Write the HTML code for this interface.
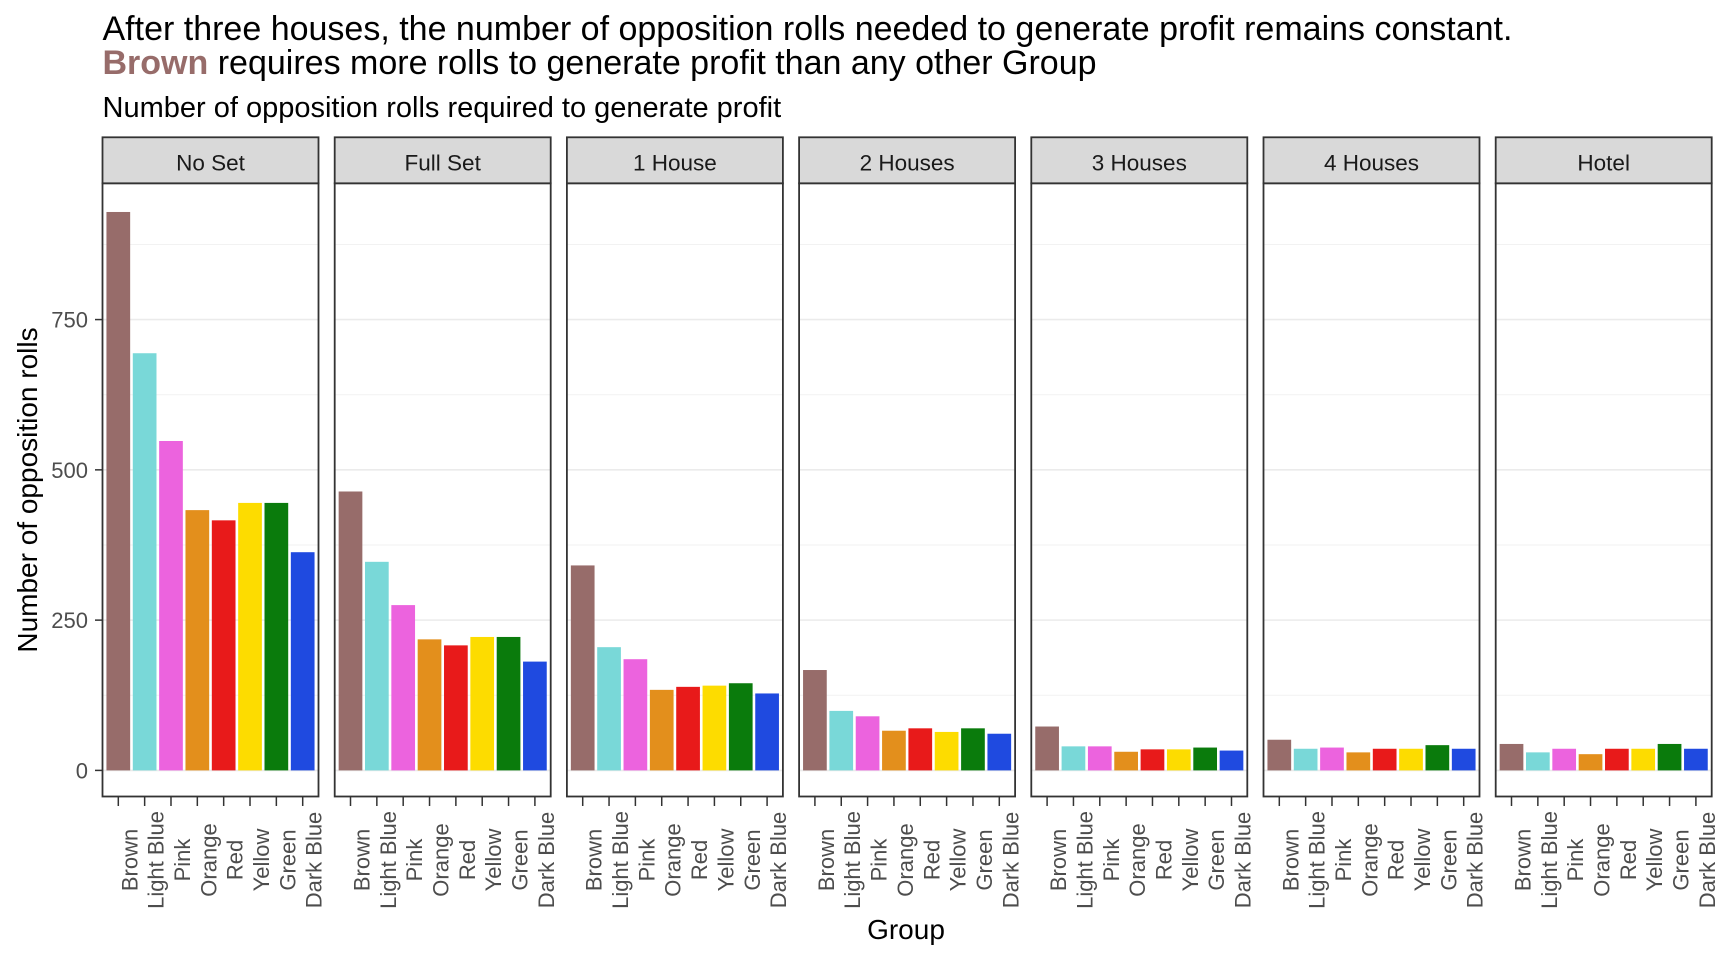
<!DOCTYPE html>
<html><head><meta charset="utf-8"><style>
html,body{margin:0;padding:0;background:#fff}
svg{display:block;font-family:"Liberation Sans",Arial,sans-serif}
</style></head><body>
<svg id="chart" width="1728" height="960" viewBox="0 0 1728 960">
<text x="102.5" y="40" font-size="34" fill="#000">After three houses, the number of opposition rolls needed to generate profit remains constant.</text>
<text x="102.5" y="74" font-size="34" fill="#000"><tspan font-weight="bold" fill="#976c6a">Brown</tspan> requires more rolls to generate profit than any other Group</text>
<text x="102.5" y="117" font-size="29" fill="#000">Number of opposition rolls required to generate profit</text>
<text transform="translate(37,490) rotate(-90)" text-anchor="middle" font-size="28" fill="#000">Number of opposition rolls</text>
<text x="906" y="939" text-anchor="middle" font-size="28" fill="#000">Group</text>
<g id="panels"></g>
</svg>
<script>
const facets = ["No Set","Full Set","1 House","2 Houses","3 Houses","4 Houses","Hotel"];
const groups = ["Brown","Light Blue","Pink","Orange","Red","Yellow","Green","Dark Blue"];
const colors = ["#976c6a","#79d8d8","#ec63de","#e38f1c","#e81a1a","#fddc00","#0a7b0c","#1f4ae0"];
const valNoSet = [929,694,548,433,416,445,445,363];
const valFullSet = [464,347,275,218,208,222,222,181];
const val1House = [341,205,185,134,139,141,145,128];
const val2Houses = [167,99,90,66,70,64,70,61];
const val3Houses = [73,40,40,31,35,35,38,33];
const val4Houses = [51,36,38,30,36,36,42,36];
const valHotel = [44,30,36,27,36,36,44,36];
const yTicks = [0,250,500,750];
const yMinor = [125,375,625,875];

const series = [valNoSet,valFullSet,val1House,val2Houses,val3Houses,val4Houses,valHotel];
const NS = "http://www.w3.org/2000/svg";
const root = document.getElementById("panels");
const PX0 = 102.5, PSTEP = 232.2, PW = 216, PTOP = 183.3, PBOT = 796.5, STRIPTOP = 137.3;
const Y0 = 770.4, YK = 0.6011;
function y(v){ return Y0 - v*YK; }
function xc(p,j){ const u = PW/8.2; return PX0 + p*PSTEP + (0.6+j)*u; }
const BW = 0.9*PW/8.2;
function mk(tag, attrs, parent){ const e=document.createElementNS(NS,tag); for(const k in attrs) e.setAttribute(k,attrs[k]); (parent||root).appendChild(e); return e; }

yTicks.forEach(t=>{
  const tl = mk("text",{x:88,y:y(t)+8,"text-anchor":"end","font-size":22,fill:"#4d4d4d"});
  tl.textContent = t;
  
  
  const tk = mk("line",{x1:95,x2:PX0,y1:y(t),y2:y(t),stroke:"#333","stroke-width":1.5});
  
  
});

facets.forEach((f,p)=>{
  const x0 = PX0 + p*PSTEP;
  const g = mk("g",{});
  
  
  mk("rect",{x:x0,y:PTOP,width:PW,height:PBOT-PTOP,fill:"#fff"},g);
  yMinor.forEach(t=>{ const l=mk("line",{x1:x0,x2:x0+PW,y1:y(t),y2:y(t),stroke:"#f2f2f2","stroke-width":1},g);
    
     });
  yTicks.forEach(t=>{ const l=mk("line",{x1:x0,x2:x0+PW,y1:y(t),y2:y(t),stroke:"#ebebeb","stroke-width":1.6},g);
    
     });
  series[p].forEach((v,j)=>{
    const b = mk("rect",{x:xc(p,j)-BW/2,y:y(v),width:BW,height:y(0)-y(v),fill:colors[j]},g);
    
    
    const tk = mk("line",{x1:xc(p,j),x2:xc(p,j),y1:PBOT,y2:PBOT+9.5,stroke:"#333","stroke-width":1.5},g);
    
    
    const cx = xc(p,j)+19, cy = 860;
    const lb = mk("text",{transform:`translate(${cx},${cy}) rotate(-90)`,"text-anchor":"middle","font-size":22,fill:"#4d4d4d"},g);
    lb.textContent = groups[j];
    
    
  });
  const border = mk("rect",{x:x0,y:PTOP,width:PW,height:PBOT-PTOP,fill:"none",stroke:"#333","stroke-width":1.8},g);
  
  
  const strip = mk("rect",{x:x0,y:STRIPTOP,width:PW,height:PTOP-STRIPTOP,fill:"#d9d9d9",stroke:"#333","stroke-width":1.8},g);
  
  
  const st = mk("text",{x:x0+PW/2,y:170.5,"text-anchor":"middle","font-size":22.5,fill:"#1a1a1a"},g);
  st.textContent = f;
  
  
});
</script>
</body></html>
